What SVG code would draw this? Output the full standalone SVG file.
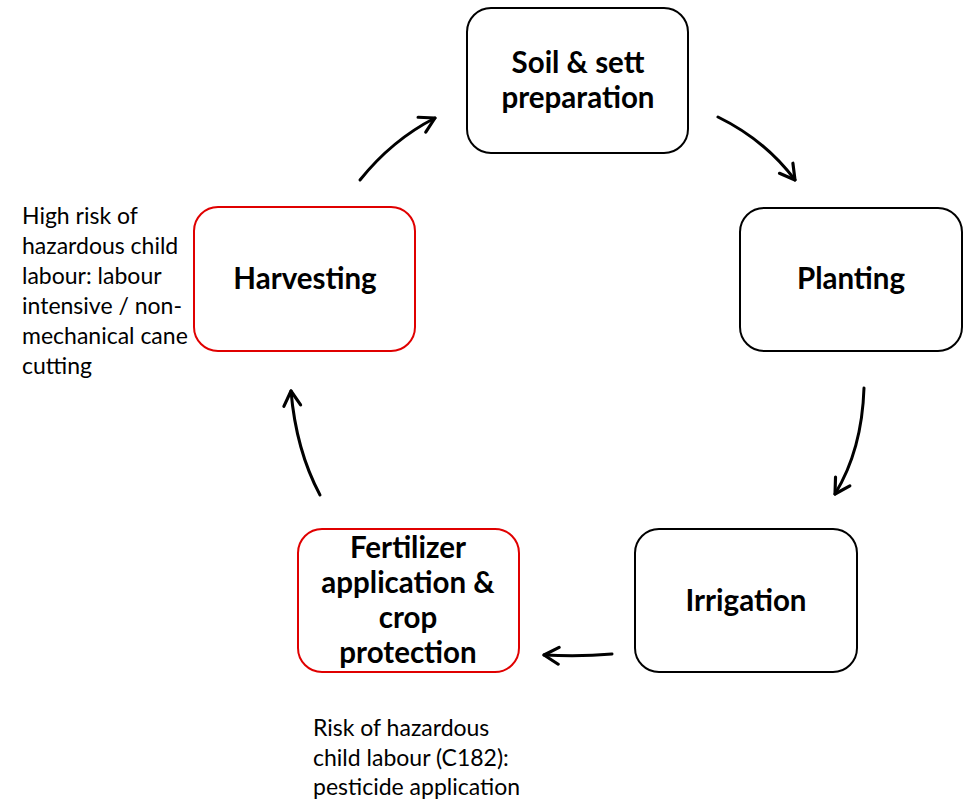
<svg xmlns="http://www.w3.org/2000/svg" width="968" height="800" viewBox="0 0 968 800">
<style>
.box{fill:#fff;stroke:#000;stroke-width:2}
.red{stroke:#e00000}
.t{font-family:Lato,"Noto Sans",sans-serif;font-weight:bold;font-size:29.5px;text-anchor:middle;fill:#000}
.n{font-family:Lato,"Noto Sans",sans-serif;font-size:23px;fill:#000}
.c{fill:none;stroke:#000;stroke-width:3;stroke-linecap:round}
</style>
<defs>
<marker id="ah" viewBox="0 0 20 20" refX="18" refY="10" markerWidth="7" markerHeight="7" markerUnits="strokeWidth" orient="auto">
<path d="M4,2 L18,10 L4,18" fill="none" stroke="#000" stroke-width="3" stroke-linecap="round" stroke-linejoin="round"/>
</marker>
</defs>
<rect width="968" height="800" fill="#fff"/>
<g id="connectors">
<path class="c" marker-end="url(#ah)" d="M360,180 Q392,140 435,118"/>
<path class="c" marker-end="url(#ah)" d="M718,117 Q765,140 795,180"/>
<path class="c" marker-end="url(#ah)" d="M864,388 Q862,450 835,494"/>
<path class="c" marker-end="url(#ah)" d="M612,654 Q580,657 544,655"/>
<path class="c" marker-end="url(#ah)" d="M320,495 Q296,450 291,391"/>
</g>
<g id="soil">
<rect class="box" x="467" y="8" width="221" height="145" rx="24"/>
<text class="t" x="578" y="73">Soil &amp; sett</text>
<text class="t" x="578" y="108">preparation</text>
</g>
<g id="planting">
<rect class="box" x="740" y="208" width="222" height="143" rx="24"/>
<text class="t" x="851" y="289">Planting</text>
</g>
<g id="irrigation">
<rect class="box" x="635" y="529" width="222" height="143" rx="24"/>
<text class="t" x="746" y="611">Irrigation</text>
</g>
<g id="fertilizer">
<rect class="box red" x="298" y="529" width="221" height="143" rx="24"/>
<text class="t" x="408" y="558">Fertilizer</text>
<text class="t" x="408" y="593">application &amp;</text>
<text class="t" x="408" y="628">crop</text>
<text class="t" x="408" y="663">protection</text>
</g>
<g id="harvesting">
<rect class="box red" x="194" y="207" width="221" height="144" rx="24"/>
<text class="t" x="305" y="289">Harvesting</text>
</g>
<g id="note-harvesting">
<text class="n" x="22" y="224">High risk of</text>
<text class="n" x="22" y="254">hazardous child</text>
<text class="n" x="22" y="284">labour: labour</text>
<text class="n" x="22" y="314">intensive / non-</text>
<text class="n" x="22" y="344">mechanical cane</text>
<text class="n" x="22" y="374">cutting</text>
</g>
<g id="note-fertilizer">
<text class="n" x="313" y="736">Risk of hazardous</text>
<text class="n" x="313" y="766">child labour (C182):</text>
<text class="n" x="313" y="795">pesticide application</text>
</g>
</svg>
